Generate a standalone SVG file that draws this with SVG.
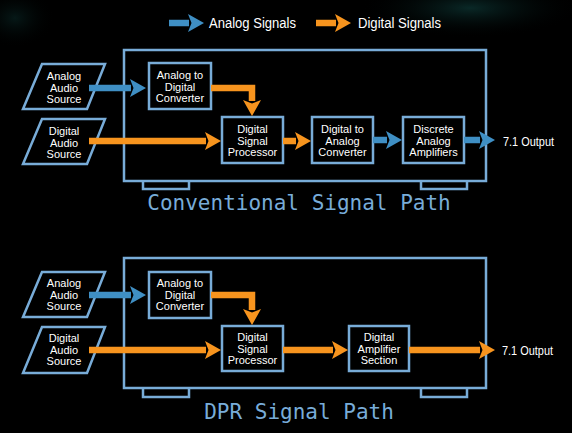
<svg xmlns="http://www.w3.org/2000/svg" width="572" height="433" viewBox="0 0 572 433">
<style>
.box{fill:#000;stroke:#78acd8;stroke-width:2.5}
.frame{fill:none;stroke:#78acd8;stroke-width:2.5}
.t{font-family:"Liberation Sans",Arial,sans-serif;font-size:11px;fill:#fff;text-anchor:middle}
.lg{font-family:"Liberation Sans",Arial,sans-serif;font-size:14px;fill:#fff}
.out{font-family:"Liberation Sans",Arial,sans-serif;font-size:12px;fill:#fff}
.title{font-family:"DejaVu Sans Mono","Liberation Mono",monospace;font-size:21px;fill:#78acd8;text-anchor:middle}
.a{fill:none;stroke:#3f8fc4;stroke-width:6.5;marker-end:url(#ha)}
.d{fill:none;stroke:#f7941e;stroke-width:6.5;marker-end:url(#hd)}
</style>
<defs>
<marker id="ha" markerUnits="userSpaceOnUse" markerWidth="18" markerHeight="20" refX="1" refY="9" orient="auto" viewBox="0 0 18 18" overflow="visible">
<path d="M0,0 L16,9 L0,18 L3.5,9 Z" fill="#3f8fc4"/>
</marker>
<marker id="hd" markerUnits="userSpaceOnUse" markerWidth="18" markerHeight="20" refX="1" refY="9" orient="auto" viewBox="0 0 18 18" overflow="visible">
<path d="M0,0 L16,9 L0,18 L3.5,9 Z" fill="#f7941e"/>
</marker>
<radialGradient id="g1" cx="0.5" cy="0.5" r="0.5">
<stop offset="0" stop-color="#0e3a38" stop-opacity="0.7"/>
<stop offset="1" stop-color="#000" stop-opacity="0"/>
</radialGradient>
</defs>
<rect width="572" height="433" fill="#000"/>
<ellipse cx="470" cy="8" rx="110" ry="30" fill="url(#g1)"/>
<ellipse cx="15" cy="18" rx="40" ry="30" fill="url(#g1)" opacity="0.6"/>

<g id="legend">
<path class="a" d="M169,23 H189"/>
<text class="lg" x="209" y="28" textLength="87" lengthAdjust="spacingAndGlyphs">Analog Signals</text>
<path class="d" d="M316,23 H336"/>
<text class="lg" x="358" y="28" textLength="83" lengthAdjust="spacingAndGlyphs">Digital Signals</text>
</g>

<!-- Conventional -->
<g id="conv-frame">
<rect class="frame" x="124" y="50" width="362" height="131"/>
<path class="frame" d="M143,181 V189 H189 V181"/>
<path class="frame" d="M421,181 V189 H467 V181"/>
<text class="title" x="299" y="210">Conventional Signal Path</text>
</g>
<g id="conv-analog-src">
<polygon class="box" points="42,64 105,64 87,109 23,109"/>
<text class="t" x="64" y="80">Analog</text><text class="t" x="64" y="91.5">Audio</text><text class="t" x="64" y="102.5">Source</text>
</g>
<g id="conv-digital-src">
<polygon class="box" points="42,119 105,119 87,164 23,164"/>
<text class="t" x="64" y="135">Digital</text><text class="t" x="64" y="146.5">Audio</text><text class="t" x="64" y="157.5">Source</text>
</g>
<g id="conv-adc">
<rect class="box" x="149" y="63" width="62" height="46"/>
<text class="t" x="180" y="79">Analog to</text><text class="t" x="180" y="91">Digital</text><text class="t" x="180" y="102">Converter</text>
</g>
<g id="conv-dsp">
<rect class="box" x="222" y="117" width="61" height="46"/>
<text class="t" x="252.5" y="133">Digital</text><text class="t" x="252.5" y="144.5">Signal</text><text class="t" x="252.5" y="156">Processor</text>
</g>
<g id="conv-dac">
<rect class="box" x="312" y="117" width="61" height="46"/>
<text class="t" x="342.5" y="133">Digital to</text><text class="t" x="342.5" y="144.5">Analog</text><text class="t" x="342.5" y="156">Converter</text>
</g>
<g id="conv-amp">
<rect class="box" x="403" y="117" width="61" height="46"/>
<text class="t" x="433.5" y="133">Discrete</text><text class="t" x="433.5" y="144.5">Analog</text><text class="t" x="433.5" y="156">Amplifiers</text>
</g>
<g id="conv-out">
<text class="out" x="503" y="146" textLength="51" lengthAdjust="spacingAndGlyphs">7.1 Output</text>
</g>
<g id="conv-connectors">
<path class="a" d="M89,88 H131"/>
<path class="d" d="M211,88 H252 V101"/>
<path class="d" d="M89,141 H206"/>
<path class="d" d="M283,141 H296"/>
<path class="a" d="M373,140 H387"/>
<path class="a" d="M464,140 H480"/>
</g>

<!-- DPR -->
<g id="dpr-frame">
<rect class="frame" x="124" y="258" width="362" height="130"/>
<path class="frame" d="M143,388 V397 H189 V388"/>
<path class="frame" d="M421,388 V397 H467 V388"/>
<text class="title" x="299" y="419">DPR Signal Path</text>
</g>
<g id="dpr-analog-src">
<polygon class="box" points="42,272 105,272 87,317 23,317"/>
<text class="t" x="64" y="287">Analog</text><text class="t" x="64" y="298.5">Audio</text><text class="t" x="64" y="310">Source</text>
</g>
<g id="dpr-digital-src">
<polygon class="box" points="42,327 105,327 87,373 23,373"/>
<text class="t" x="64" y="342">Digital</text><text class="t" x="64" y="353.5">Audio</text><text class="t" x="64" y="365">Source</text>
</g>
<g id="dpr-adc">
<rect class="box" x="149" y="272" width="62" height="46"/>
<text class="t" x="180" y="287">Analog to</text><text class="t" x="180" y="298.5">Digital</text><text class="t" x="180" y="310">Converter</text>
</g>
<g id="dpr-dsp">
<rect class="box" x="222" y="326" width="61" height="45"/>
<text class="t" x="252.5" y="341">Digital</text><text class="t" x="252.5" y="352.5">Signal</text><text class="t" x="252.5" y="363.5">Processor</text>
</g>
<g id="dpr-amp">
<rect class="box" x="349" y="326" width="60" height="45"/>
<text class="t" x="379" y="341">Digital</text><text class="t" x="379" y="352.5">Amplifier</text><text class="t" x="379" y="363.5">Section</text>
</g>
<g id="dpr-out">
<text class="out" x="502" y="355" textLength="51" lengthAdjust="spacingAndGlyphs">7.1 Output</text>
</g>
<g id="dpr-connectors">
<path class="a" d="M89,295 H131"/>
<path class="d" d="M211,295 H252 V310"/>
<path class="d" d="M89,350 H206"/>
<path class="d" d="M283,350 H333"/>
<path class="d" d="M409,350 H480"/>
</g>
</svg>
